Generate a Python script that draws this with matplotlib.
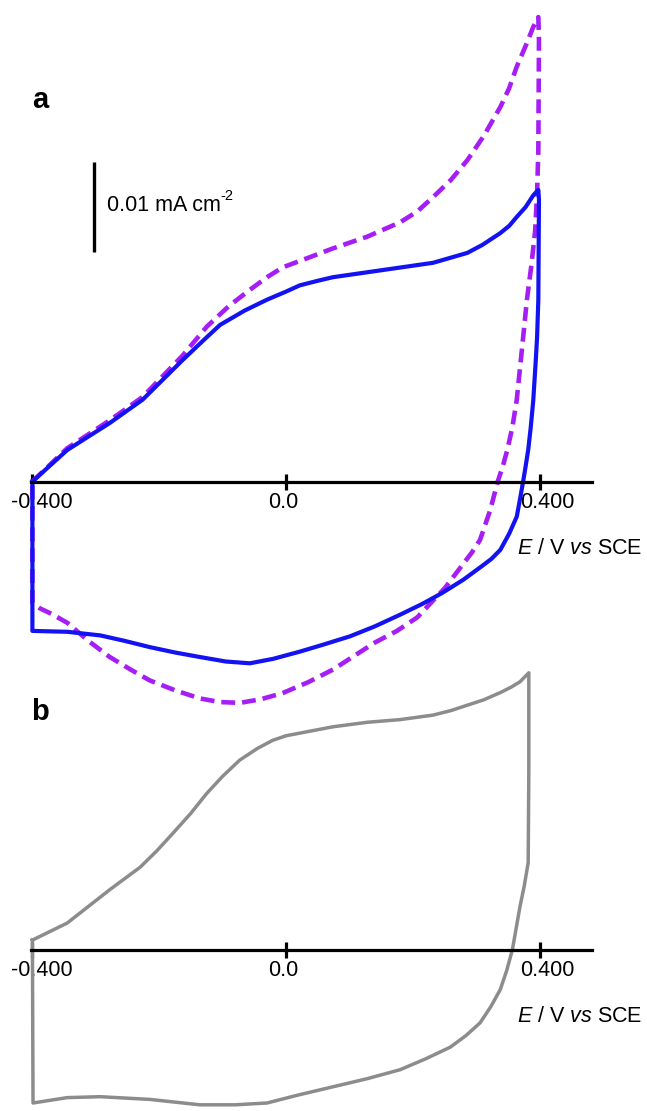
import matplotlib
matplotlib.use("Agg")
import matplotlib.pyplot as plt
import matplotlib.transforms as mtransforms

plt.rcParams['font.family'] = ['Liberation Sans', 'DejaVu Sans']
plt.rcParams['axes.unicode_minus'] = False
plt.rcParams['mathtext.fontset'] = 'custom'
plt.rcParams['mathtext.rm'] = 'Liberation Sans'
plt.rcParams['mathtext.it'] = 'Liberation Sans:italic'
plt.rcParams['lines.scale_dashes'] = False

# ---------------- data (E in V vs SCE, current density in mA cm^-2) ----------------
tick_values = [-0.4, 0.0, 0.4]
tick_labels = ["-0.400", "0.0", "0.400"]
scale_bar_value = 0.01

# panel a, solid blue
blue_E_fwd = [-0.400, -0.345, -0.278, -0.226, -0.163, -0.130, -0.104, -0.065, -0.030, 0.000,
              0.022, 0.050, 0.074, 0.153, 0.232, 0.286, 0.310, 0.338, 0.352, 0.364,
              0.378, 0.390, 0.398]
blue_i_fwd = [0.0000, 0.0035, 0.0065, 0.0091, 0.0135, 0.0157, 0.0174, 0.0190, 0.0202, 0.0211,
              0.0218, 0.0223, 0.0227, 0.0235, 0.0243, 0.0254, 0.0263, 0.0276, 0.0284, 0.0294,
              0.0305, 0.0318, 0.0324]
blue_E_rev = [0.399, 0.398, 0.396, 0.394, 0.390, 0.386, 0.382, 0.378, 0.374, 0.369,
              0.364, 0.352, 0.338, 0.324, 0.309, 0.280, 0.246, 0.215, 0.180, 0.140,
              0.101, 0.060, 0.022, -0.020, -0.057, -0.095, -0.136, -0.175, -0.215, -0.255,
              -0.293, -0.345, -0.400, -0.400]
blue_i_rev = [0.0313, 0.0202, 0.0160, 0.0135, 0.0090, 0.0060, 0.0035, 0.0017, 0.0000, -0.0020,
              -0.0039, -0.0058, -0.0076, -0.0086, -0.0094, -0.0109, -0.0124, -0.0136, -0.0148, -0.0161,
              -0.0172, -0.0181, -0.0189, -0.0197, -0.0202, -0.0200, -0.0195, -0.0190, -0.0184, -0.0177,
              -0.0171, -0.0167, -0.0166, 0.0000]

# panel a, dashed purple
purple_E_fwd = [-0.400, -0.345, -0.278, -0.226, -0.163, -0.125, -0.090, -0.057, -0.030, -0.005,
                0.033, 0.074, 0.128, 0.180, 0.207, 0.232, 0.260, 0.286, 0.312, 0.338,
                0.352, 0.364, 0.378, 0.390, 0.398]
purple_i_fwd = [0.0000, 0.0037, 0.0068, 0.0094, 0.0140, 0.0172, 0.0195, 0.0213, 0.0227, 0.0238,
                0.0248, 0.0259, 0.0272, 0.0288, 0.0300, 0.0316, 0.0335, 0.0357, 0.0384, 0.0416,
                0.0437, 0.0461, 0.0484, 0.0505, 0.0516]
purple_E_rev = [0.399, 0.398, 0.396, 0.393, 0.387, 0.380, 0.372, 0.364, 0.357, 0.349,
                0.342, 0.334, 0.322, 0.306, 0.293, 0.279, 0.251, 0.207, 0.175, 0.140,
                0.107, 0.074, 0.035, -0.005, -0.040, -0.073, -0.105, -0.136, -0.175, -0.215,
                -0.245, -0.278, -0.310, -0.345, -0.370, -0.388, -0.400, -0.400]
purple_i_rev = [0.0491, 0.0368, 0.0320, 0.0279, 0.0240, 0.0202, 0.0146, 0.0091, 0.0060, 0.0035,
                0.0017, 0.0000, -0.0032, -0.0065, -0.0079, -0.0092, -0.0118, -0.0151, -0.0166, -0.0179,
                -0.0194, -0.0209, -0.0223, -0.0235, -0.0242, -0.0246, -0.0245, -0.0241, -0.0232, -0.0221,
                -0.0209, -0.0195, -0.0178, -0.0157, -0.0147, -0.0141, -0.0135, 0.0000]

# panel b, grey
grey_E_fwd = [-0.400, -0.345, -0.278, -0.230, -0.204, -0.178, -0.150, -0.125, -0.100, -0.073,
              -0.045, -0.021, 0.000, 0.022, 0.074, 0.128, 0.180, 0.232, 0.260, 0.286,
              0.312, 0.338, 0.355, 0.369, 0.383]
grey_i_fwd = [0.0011, 0.0030, 0.0067, 0.0092, 0.0110, 0.0130, 0.0152, 0.0174, 0.0193, 0.0211,
              0.0224, 0.0233, 0.0238, 0.0241, 0.0248, 0.0253, 0.0256, 0.0261, 0.0266, 0.0272,
              0.0278, 0.0286, 0.0292, 0.0298, 0.0308]
grey_E_rev = [0.383, 0.383, 0.382, 0.376, 0.369, 0.363, 0.357, 0.348, 0.338, 0.323,
              0.306, 0.284, 0.259, 0.220, 0.180, 0.128, 0.074, 0.020, -0.030, -0.080,
              -0.136, -0.215, -0.293, -0.345, -0.399, -0.400]
grey_i_rev = [0.0278, 0.0200, 0.0097, 0.0072, 0.0048, 0.0024, 0.0000, -0.0023, -0.0044, -0.0063,
              -0.0081, -0.0095, -0.0108, -0.0121, -0.0133, -0.0143, -0.0152, -0.0161, -0.0170, -0.0172,
              -0.0172, -0.0166, -0.0163, -0.0164, -0.0170, 0.0011]

# ---------------- figure ----------------
W, H, DPI = 647, 1111, 100
fig = plt.figure(figsize=(W / DPI, H / DPI), dpi=DPI)

PX_PER_V = 634.0
PX_PER_I = 9000.0
X0_PX = 286.0


def make_axes(top_px, bottom_px, zero_px):
    ax = fig.add_axes([0, 1 - bottom_px / H, 1, (bottom_px - top_px) / H])
    ax.set_xlim(-X0_PX / PX_PER_V, (W - X0_PX) / PX_PER_V)
    ax.set_ylim((zero_px - bottom_px) / PX_PER_I, (zero_px - top_px) / PX_PER_I)
    ax.patch.set_visible(False)
    for s in ['top', 'left', 'right']:
        ax.spines[s].set_visible(False)
    ax.spines['bottom'].set_position(('data', 0))
    ax.spines['bottom'].set_bounds((31 - X0_PX) / PX_PER_V, (592 - X0_PX) / PX_PER_V)
    ax.spines['bottom'].set_linewidth(2.3)
    ax.set_yticks([])
    ax.set_xticks(tick_values, labels=tick_labels)
    ax.tick_params(axis='x', direction='inout', length=11, width=2.3, pad=2,
                   labelsize=15.5, colors='black')
    offsets = [9, -3, 8]
    for lab, dx in zip(ax.get_xticklabels(), offsets):
        lab.set_transform(lab.get_transform() +
                          mtransforms.ScaledTranslation(dx / DPI, 0, fig.dpi_scale_trans))
    ax.text((517 - X0_PX) / PX_PER_V, -67 / PX_PER_I,
            r"$\mathit{E}$ / V $\mathit{vs}$ SCE", fontsize=15.5, ha='left', va='center')
    return ax


ax_a = make_axes(0, 725, 481.5)
ax_b = make_axes(560, 1111, 950)

ax_a.plot(purple_E_fwd + purple_E_rev, purple_i_fwd + purple_i_rev, color='#A51EF5',
          lw=3.3, dashes=(10.0, 5.0), clip_on=False, dash_joinstyle='round')
ax_a.plot(blue_E_fwd + blue_E_rev, blue_i_fwd + blue_i_rev, color='#1212F2',
          lw=3.0, clip_on=False, solid_joinstyle='round')
ax_b.plot(grey_E_fwd + grey_E_rev, grey_i_fwd + grey_i_rev, color='#8C8C8C',
          lw=2.5, clip_on=False, solid_joinstyle='round')

# scale bar
sb_x = (94 - X0_PX) / PX_PER_V
sb_y0 = (481.5 - 252) / PX_PER_I
ax_a.plot([sb_x, sb_x], [sb_y0, sb_y0 + scale_bar_value], color='black', lw=2.4,
          solid_capstyle='butt')
sb_text = ax_a.text((107 - X0_PX) / PX_PER_V, sb_y0 + scale_bar_value * 0.52,
                    "0.01 mA cm", fontsize=15.5, ha='left', va='center')
ax_a.annotate("-2", xy=(1.0, 0.62), xycoords=sb_text, fontsize=10.5,
              ha='left', va='bottom')

fig.text(40 / W, 1 - 100 / H, "a", fontsize=21, fontweight='bold', ha='center', va='center')
fig.text(40 / W, 1 - 712 / H, "b", fontsize=21, fontweight='bold', ha='center', va='center')

fig.savefig("out.png", dpi=DPI)
